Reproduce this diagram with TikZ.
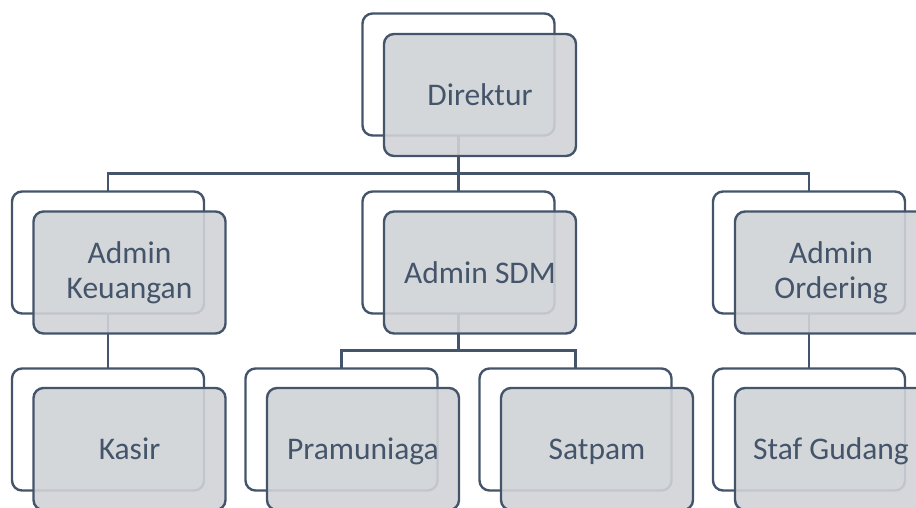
\documentclass[tikz,border=0pt]{standalone}
\usepackage{fontspec}
\setmainfont{Carlito}
\usetikzlibrary{backgrounds}
\definecolor{slate}{HTML}{44546A}
\definecolor{boxgray}{HTML}{D0D3D7}
\begin{document}
\begin{tikzpicture}[x=1pt,y=-1pt,
  every node/.style={inner sep=0pt,outer sep=0pt},
  card/.style={draw=slate,line width=2.4pt,rounded corners=10pt,
    minimum width=192pt,minimum height=122pt},
  backbox/.style={card,fill=white},
  frontbox/.style={card,fill=boxgray,fill opacity=0.9,text opacity=1,
    text=slate,align=center,font=\fontsize{31.5}{35}\selectfont},
  oneline/.style={text depth=0pt},
  link/.style={draw=slate,line width=2.4pt}]
\path[use as bounding box] (0,0) rectangle (916,508);
\clip (0,0) rectangle (916,508);

% top level
\node[backbox] (dirB) at (458.5,74.5) {};
\node[frontbox,oneline] (dir) at (480,95) {Direktur};

% second level
\node[backbox] (keuB) at (108,252.5) {};
\node[frontbox] (keu) at (129.5,272.5) {Admin\\Keuangan};
\node[backbox] (sdmB) at (458.5,252.5) {};
\node[frontbox,oneline] (sdm) at (480,272.5) {Admin SDM};
\node[backbox] (ordB) at (809,252.5) {};
\node[frontbox] (ord) at (831,272.5) {Admin\\Ordering};

% third level
\node[backbox] (kasB) at (108,429.5) {};
\node[frontbox,oneline] (kas) at (129.5,449) {Kasir};
\node[backbox] (praB) at (341.5,429.5) {};
\node[frontbox,oneline] (pra) at (363,449) {Pramuniaga};
\node[backbox] (satB) at (575.5,429.5) {};
\node[frontbox,oneline] (sat) at (597,449) {Satpam};
\node[backbox] (stfB) at (809,429.5) {};
\node[frontbox,oneline] (stf) at (831,449) {Staf Gudang};

% connectors behind the cards
\begin{scope}[on background layer]
  \draw[link] (dirB.south) -- ++(0,38) -| (keuB.north);
  \draw[link] (dirB.south) -- ++(0,38) -| (ordB.north);
  \draw[link] (dirB.south) -- (sdmB.north);
  \draw[link] (keuB.south) -- (kasB.north);
  \draw[link] (sdmB.south) -- ++(0,37) -| (praB.north);
  \draw[link] (sdmB.south) -- ++(0,37) -| (satB.north);
  \draw[link] (ordB.south) -- (stfB.north);
\end{scope}
\end{tikzpicture}
\end{document}
